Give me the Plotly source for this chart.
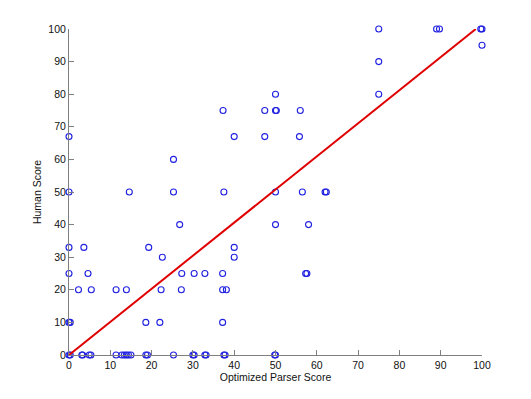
import plotly.graph_objects as go

# Scatter data: Optimized Parser Score (x) vs Human Score (y)
parser_score = [
    0, 0, 0, 0, 0, 0.3, 0, 0.3,
    2.3, 3.6, 4.6, 5.4, 11.4, 13.9, 14.6, 18.6, 19.3, 22.0, 22.3, 22.6,
    25.3, 25.3, 26.8, 27.3, 27.2, 30.3, 32.9, 37.2, 37.2, 38.1, 37.2, 37.5,
    37.3, 40.0, 40.0, 40.0, 47.4, 47.4, 50.0, 50.0, 50.2, 56.0, 55.8, 50.0,
    50.0, 56.5, 58.0, 62.0, 62.3, 57.3, 57.6, 75.0, 75.0, 75.0, 89.0, 89.7,
    99.7, 100.0, 100.0,
    3.1, 3.3, 4.9, 5.3, 11.4, 12.8, 13.4, 13.9, 14.4, 15.0, 18.6, 19.0,
    25.3, 30.0, 30.3, 32.9, 33.2, 37.5, 37.8, 49.8, 50.0,
]
human_score = [
    67, 50, 33, 25, 10, 10, 0, 0,
    20, 33, 25, 20, 20, 20, 50, 10, 33, 10, 20, 30,
    60, 50, 40, 25, 20, 25, 25, 25, 20, 20, 10, 50,
    75, 67, 33, 30, 75, 67, 80, 75, 75, 75, 67, 50,
    40, 50, 40, 50, 50, 25, 25, 100, 90, 80, 100, 100,
    100, 100, 95,
    0, 0, 0, 0, 0, 0, 0, 0, 0, 0, 0, 0,
    0, 0, 0, 0, 0, 0, 0, 0, 0,
]

# Fit line endpoints
fit_x = [0, 98.5]
fit_y = [0, 100]

x_ticks = [0, 10, 20, 30, 40, 50, 60, 70, 80, 90, 100]
y_ticks = [0, 10, 20, 30, 40, 50, 60, 70, 80, 90, 100]

fig = go.Figure()
fig.add_trace(go.Scatter(
    x=parser_score, y=human_score, mode="markers",
    marker=dict(symbol="circle-open", size=6, color="#2020e0",
                line=dict(width=1.1, color="#2020e0")),
    cliponaxis=False, showlegend=False,
))
fig.add_trace(go.Scatter(
    x=fit_x, y=fit_y, mode="lines",
    line=dict(color="#e00000", width=2),
    cliponaxis=False, showlegend=False,
))

axis_common = dict(
    showgrid=False, zeroline=False, showline=True, linecolor="#7f7f7f",
    linewidth=1, ticks="inside", ticklen=5, tickcolor="#7f7f7f",
    tickfont=dict(family="Liberation Sans, Arial", size=10.5, color="#111"),
    mirror=False,
)

fig.update_layout(
    width=531, height=399,
    margin=dict(l=61, r=57, t=21, b=52),
    paper_bgcolor="white", plot_bgcolor="white",
    xaxis=dict(range=[0, 100], tickvals=x_ticks, ticktext=[str(v) for v in x_ticks],
               title=dict(text="Optimized Parser Score", standoff=3,
                          font=dict(family="Liberation Sans, Arial", size=10.5, color="#111")),
               **axis_common),
    yaxis=dict(range=[0, 100], tickvals=y_ticks, ticktext=[str(v) for v in y_ticks],
               title=dict(text="Human Score", standoff=4,
                          font=dict(family="Liberation Sans, Arial", size=10.5, color="#111")),
               **axis_common),
)

fig.write_html("out.html")
